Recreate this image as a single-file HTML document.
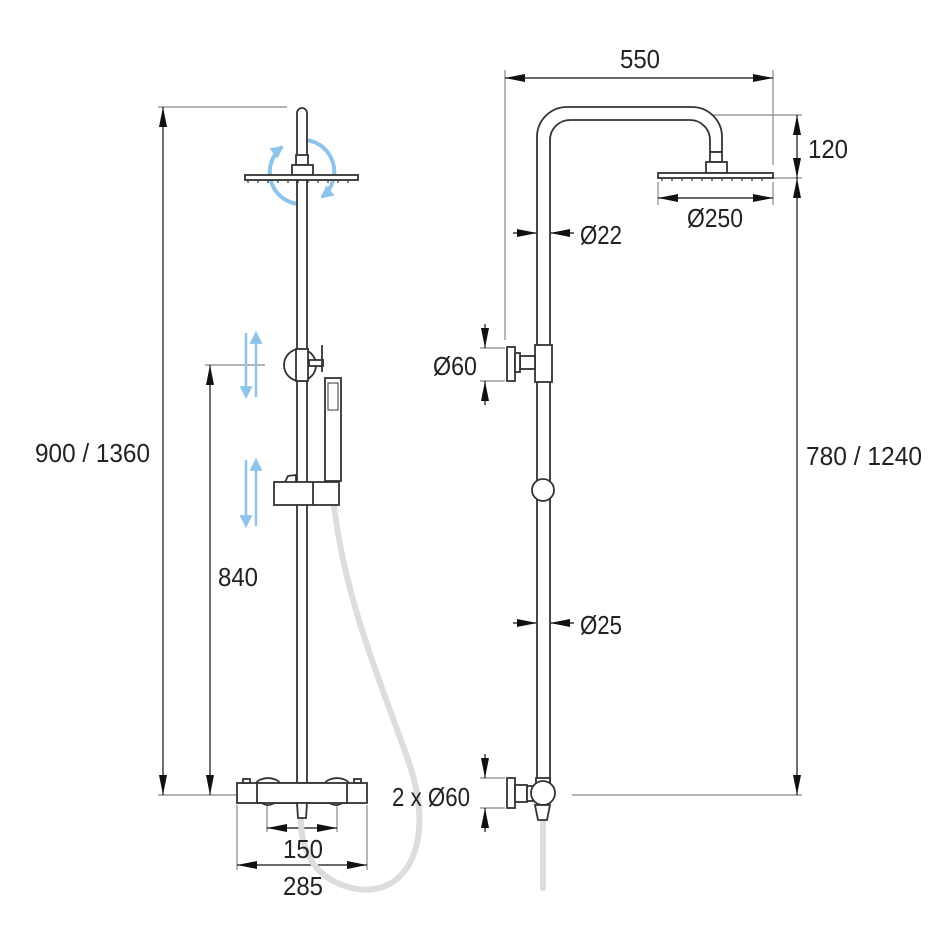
<!DOCTYPE html>
<html><head><meta charset="utf-8"><style>html,body{margin:0;padding:0;background:#fff}svg{display:block}text{font-family:"Liberation Sans",sans-serif;font-size:26px;fill:#222}</style></head><body>
<svg width="950" height="950" viewBox="0 0 950 950" xmlns="http://www.w3.org/2000/svg">
<defs>
<marker id="a" viewBox="0 0 20 8" refX="20" refY="4" markerWidth="20" markerHeight="8" orient="auto-start-reverse" markerUnits="userSpaceOnUse"><path d="M0,0L20,4L0,8z" fill="#111"/></marker>
<marker id="b" viewBox="0 0 12 12" refX="10" refY="6" markerWidth="13" markerHeight="13" orient="auto-start-reverse" markerUnits="userSpaceOnUse"><path d="M0,0L12,6L0,12z" fill="#8fc4ea"/></marker>
</defs>
<g stroke="#888" stroke-width="1.2" fill="none">
<line x1="158" y1="107" x2="287" y2="107"/><line x1="158" y1="795" x2="237" y2="795"/>
<line x1="205" y1="365" x2="265" y2="365"/>
<line x1="237" y1="805" x2="237" y2="870"/><line x1="367" y1="805" x2="367" y2="870"/>
<line x1="267" y1="800" x2="267" y2="832"/><line x1="337" y1="800" x2="337" y2="832"/>
<line x1="505" y1="70" x2="505" y2="340"/><line x1="773" y1="70" x2="773" y2="165"/>
<line x1="700" y1="115" x2="802" y2="115"/><line x1="773" y1="178" x2="802" y2="178"/>
<line x1="572" y1="795" x2="802" y2="795"/>
<line x1="658" y1="182" x2="658" y2="205"/><line x1="773" y1="182" x2="773" y2="205"/>
<line x1="480" y1="348" x2="505" y2="348"/><line x1="480" y1="381" x2="505" y2="381"/>
<line x1="480" y1="778" x2="505" y2="778"/><line x1="480" y1="808" x2="505" y2="808"/>
</g>
<g stroke="#111" stroke-width="1.2" fill="none">
<line x1="163" y1="107" x2="163" y2="795" marker-start="url(#a)" marker-end="url(#a)"/>
<line x1="210" y1="365" x2="210" y2="795" marker-start="url(#a)" marker-end="url(#a)"/>
<line x1="267" y1="828" x2="337" y2="828" marker-start="url(#a)" marker-end="url(#a)"/>
<line x1="237" y1="865" x2="367" y2="865" marker-start="url(#a)" marker-end="url(#a)"/>
<line x1="505" y1="78" x2="773" y2="78" marker-start="url(#a)" marker-end="url(#a)"/>
<line x1="797" y1="115" x2="797" y2="178" marker-start="url(#a)" marker-end="url(#a)"/>
<line x1="797" y1="178" x2="797" y2="795" marker-start="url(#a)" marker-end="url(#a)"/>
<line x1="658" y1="198" x2="773" y2="198" marker-start="url(#a)" marker-end="url(#a)"/>
<line x1="513" y1="233" x2="537" y2="233" marker-end="url(#a)"/><line x1="574" y1="233" x2="550" y2="233" marker-end="url(#a)"/>
<line x1="513" y1="623" x2="537" y2="623" marker-end="url(#a)"/><line x1="574" y1="623" x2="550" y2="623" marker-end="url(#a)"/>
<line x1="485" y1="324" x2="485" y2="348" marker-end="url(#a)"/><line x1="485" y1="405" x2="485" y2="381" marker-end="url(#a)"/>
<line x1="485" y1="754" x2="485" y2="778" marker-end="url(#a)"/><line x1="485" y1="832" x2="485" y2="808" marker-end="url(#a)"/>
</g>
<path d="M334 505 C345 600 380 680 408 760 C438 845 405 900 352 888 C310 878 300 845 301 815" stroke="#ddd" stroke-width="6" fill="none"/>
<line x1="543" y1="822" x2="543" y2="888" stroke="#ddd" stroke-width="6" stroke-linecap="round"/>
<g stroke="#8fc4ea" stroke-width="4" fill="none">
<path d="M298 204 A32 32 0 0 1 282 147" marker-end="url(#b)"/>
<path d="M306 140 A32 32 0 0 1 322 197" marker-end="url(#b)"/>
</g>
<g stroke="#333" stroke-width="1.8" fill="#fff">
<path d="M297 783 L297 113 A5 5 0 0 1 307 113 L307 783"/>
<rect x="296" y="155" width="12" height="10"/><rect x="292" y="165" width="21" height="10"/>
<rect x="245" y="175" width="113" height="5"/>
<path d="M248 180 v3 M258 180 v3 M268 180 v3 M278 180 v3 M288 180 v3 M298 180 v3 M308 180 v3 M318 180 v3 M328 180 v3 M338 180 v3 M348 180 v3" stroke-width="1.2"/>
<circle cx="300" cy="365" r="16"/><rect x="296" y="349" width="12" height="32"/>
<rect x="309" y="360" width="14" height="6"/><line x1="322" y1="345" x2="322" y2="372"/>
<rect x="325" y="378" width="16" height="103"/><rect x="328" y="383" width="10" height="27" stroke-width="1"/>
<path d="M285 482 L288 476 L296 475 L296 482"/>
<rect x="274" y="482" width="65" height="23"/><line x1="313" y1="482" x2="313" y2="505"/>
<rect x="237" y="783" width="130" height="20"/>
<path d="M256 783 A13 8 0 0 1 280 783 M325 783 A13 8 0 0 1 349 783 M262 803 A8 6 0 0 0 274 803 M330 803 A8 6 0 0 0 342 803"/>
<rect x="257" y="783" width="90" height="20"/>
<rect x="243" y="779" width="7" height="4"/><rect x="354" y="779" width="7" height="4"/>
<path d="M297 803 L307 803 L306 818 L298 818 Z"/>
<path d="M537 790 L537 137 A30 30 0 0 1 567 107 L692 107 A30 30 0 0 1 722 137 L722 152 L710 152 L710 140 A20 20 0 0 0 690 120 L570 120 A20 20 0 0 0 550 140 L550 790"/>
<rect x="710" y="152" width="12" height="10"/><rect x="706" y="162" width="21" height="11"/>
<rect x="658" y="173" width="115" height="5"/>
<path d="M662 178 v3 M672 178 v3 M682 178 v3 M692 178 v3 M702 178 v3 M712 178 v3 M722 178 v3 M732 178 v3 M742 178 v3 M752 178 v3 M762 178 v3" stroke-width="1.2"/>
<rect x="535" y="345" width="17" height="37"/><rect x="520" y="356" width="15" height="13"/><rect x="507" y="347" width="8" height="34"/><rect x="515" y="353" width="5" height="19"/>
<circle cx="543" cy="490" r="11"/>
<rect x="536" y="778" width="14" height="8"/>
<rect x="507" y="778" width="8" height="30"/><rect x="515" y="785" width="12" height="17"/><rect x="527" y="786" width="6" height="15"/>
<path d="M535 805 L550 805 L547 820 L538 820 Z"/>
<circle cx="543" cy="793" r="12"/>
</g>
<g stroke="#8fc4ea" stroke-width="2.5">
<line x1="246" y1="333" x2="246" y2="397" marker-end="url(#b)"/><line x1="256" y1="397" x2="256" y2="333" marker-end="url(#b)"/>
<line x1="246" y1="460" x2="246" y2="526" marker-end="url(#b)"/><line x1="256" y1="526" x2="256" y2="460" marker-end="url(#b)"/>
</g>
<text x="35" y="462" textLength="115" lengthAdjust="spacingAndGlyphs">900 / 1360</text>
<text x="218" y="586" textLength="40" lengthAdjust="spacingAndGlyphs">840</text>
<text x="283" y="858" textLength="40" lengthAdjust="spacingAndGlyphs">150</text>
<text x="283" y="895" textLength="40" lengthAdjust="spacingAndGlyphs">285</text>
<text x="620" y="68" textLength="40" lengthAdjust="spacingAndGlyphs">550</text>
<text x="808" y="158" textLength="40" lengthAdjust="spacingAndGlyphs">120</text>
<text x="687" y="227" textLength="56" lengthAdjust="spacingAndGlyphs">Ø250</text>
<text x="580" y="244" textLength="42" lengthAdjust="spacingAndGlyphs">Ø22</text>
<text x="580" y="634" textLength="42" lengthAdjust="spacingAndGlyphs">Ø25</text>
<text x="433" y="375" textLength="44" lengthAdjust="spacingAndGlyphs">Ø60</text>
<text x="392" y="806" textLength="78" lengthAdjust="spacingAndGlyphs">2 x Ø60</text>
<text x="806" y="465" textLength="116" lengthAdjust="spacingAndGlyphs">780 / 1240</text>
</svg>
</body></html>
